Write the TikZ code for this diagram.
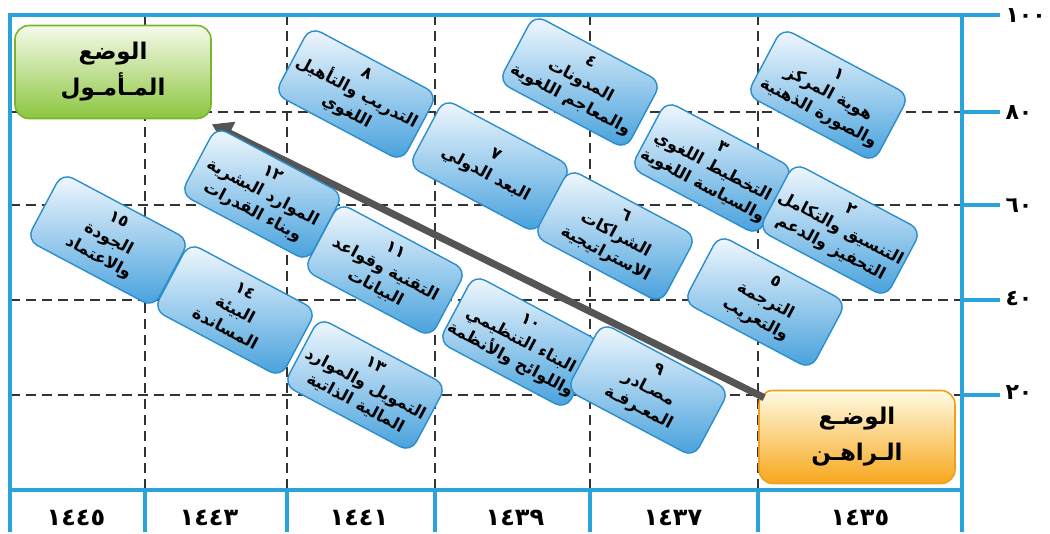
\documentclass[tikz,border=0pt]{standalone}
\usepackage{fontspec}
\newfontfamily\ar[Script=Arabic]{DejaVu Sans}
\TeXXeTstate=1
\usetikzlibrary{arrows.meta}
\definecolor{frameblue}{HTML}{2AA3DD}
\definecolor{cardedge}{HTML}{2B8ECB}
\definecolor{cardtop}{HTML}{F4F9FE}
\definecolor{cardmid}{HTML}{CFE6F7}
\definecolor{cardbot}{HTML}{44A0DC}
\definecolor{gridc}{HTML}{333333}
\definecolor{arrowc}{HTML}{555555}
\definecolor{gtop}{HTML}{F6FAEA}
\definecolor{gbot}{HTML}{8CC63F}
\definecolor{gedge}{HTML}{7AB42E}
\definecolor{ytop}{HTML}{FFFBE3}
\definecolor{ybot}{HTML}{F7A71C}
\definecolor{yedge}{HTML}{F0A020}
\tikzset{
  card/.style={rounded corners=12pt, draw=cardedge, line width=1.4pt,
    top color=cardtop, middle color=cardmid, bottom color=cardbot,
    minimum width=144pt, minimum height=76pt, rotate=-28, align=center,
    inner sep=1pt, text=black,
    font=\ar\bfseries\fontsize{16.5}{21.5}\selectfont},
  status/.style={rounded corners=14pt, line width=1.6pt, align=center,
    minimum width=196pt, minimum height=93pt, text=black,
    font=\ar\bfseries\fontsize{23}{36}\selectfont},
  gridline/.style={draw=gridc, line width=1.5pt, dash pattern=on 10pt off 6pt},
  frameline/.style={draw=frameblue, line width=4.5pt},
  ticklbl/.style={font=\ar\bfseries\fontsize{24}{26}\selectfont, text=black},
  ylbl/.style={font=\ar\bfseries\fontsize{22}{24}\selectfont, text=black, anchor=west},
  bigarrow/.style={draw=arrowc, line width=7pt, -{Triangle[length=20pt,width=24pt]}}
}
\begin{document}
\begin{tikzpicture}[x=1pt,y=-1pt]
\useasboundingbox (0,0) rectangle (1050,534);
% grid
\foreach \gx in {145,287,435,590,758}
  \draw[gridline] (\gx,15) -- (\gx,490);
\foreach \gy in {112,205,300,395}
  \draw[gridline] (10,\gy) -- (962,\gy);
% frame
\draw[frameline] (10,15) rectangle (962,490);
\draw[frameline] (962,15) -- (1000,15);
\foreach \gy in {112,205,300,395}
  \draw[frameline] (962,\gy) -- (1000,\gy);
\foreach \gx in {10,145,287,435,590,758,962}
  \draw[frameline] (\gx,490) -- (\gx,532);
% axis labels
\node[ylbl] (y100) at (1002,16) {١٠٠};
\node[ylbl] (y80) at (1002,113) {٨٠};
\node[ylbl] (y60) at (1002,206) {٦٠};
\node[ylbl] (y40) at (1002,299) {٤٠};
\node[ylbl] (y20) at (1002,393) {٢٠};
\node[ticklbl] (x1445) at (76,518) {١٤٤٥};
\node[ticklbl] (x1443) at (209,518) {١٤٤٣};
\node[ticklbl] (x1441) at (359,518) {١٤٤١};
\node[ticklbl] (x1439) at (515,518) {١٤٣٩};
\node[ticklbl] (x1437) at (673,518) {١٤٣٧};
\node[ticklbl] (x1435) at (860,518) {١٤٣٥};
% status boxes
\node[status, draw=gedge, top color=gtop, bottom color=gbot] (goal) at (113,72)
  {\beginR الوضع\endR\\\beginR المـأمـول\endR};
\node[status, draw=yedge, top color=ytop, bottom color=ybot] (now) at (857,437)
  {\beginR الوضـع\endR\\\beginR الـراهـن\endR};
\draw[bigarrow] ([shift={(6pt,-8pt)}]now.north west) -- ([shift={(0pt,-5pt)}]goal.south east);
% cards
\node[card] (b1) at (828,95) {١\\\beginR هوية المركز\endR\\\beginR والصورة الذهنية\endR};
\node[card] (b4) at (580,82) {٤\\\beginR المدونات\endR\\\beginR والمعاجم اللغوية\endR};
\node[card] (b8) at (356,94) {٨\\\beginR التدريب والتأهيل\endR\\\beginR اللغوي\endR};
\node[card] (b3) at (712,168) {٣\\\beginR التخطيط اللغوي\endR\\\beginR والسياسة اللغوية\endR};
\node[card] (b7) at (490,166) {٧\\\beginR البعد الدولي\endR};
\node[card] (b12) at (262,194) {١٢\\\beginR الموارد البشرية\endR\\\beginR وبناء القدرات\endR};
\node[card] (b2) at (840,230) {٢\\\beginR التنسيق والتكامل\endR\\\beginR التحفيز والدعم\endR};
\node[card] (b6) at (615,236) {٦\\\beginR الشراكات\endR\\\beginR الاستراتيجية\endR};
\node[card] (b15) at (108,240) {١٥\\\beginR الجودة\endR\\\beginR والاعتماد\endR};
\node[card] (b11) at (385,270) {١١\\\beginR التقنية وقواعد\endR\\\beginR البيانات\endR};
\node[card] (b5) at (765,302) {٥\\\beginR الترجمة\endR\\\beginR والتعريب\endR};
\node[card] (b14) at (235,310) {١٤\\\beginR البيئة\endR\\\beginR المساندة\endR};
\node[card] (b10) at (520,342) {١٠\\\beginR البناء التنظيمي\endR\\\beginR واللوائح والأنظمة\endR};
\node[card] (b13) at (365,385) {١٣\\\beginR التمويل والموارد\endR\\\beginR المالية الذاتية\endR};
\node[card] (b9) at (648,390) {٩\\\beginR مصـادر\endR\\\beginR المعـرفـة\endR};
\end{tikzpicture}
\end{document}
